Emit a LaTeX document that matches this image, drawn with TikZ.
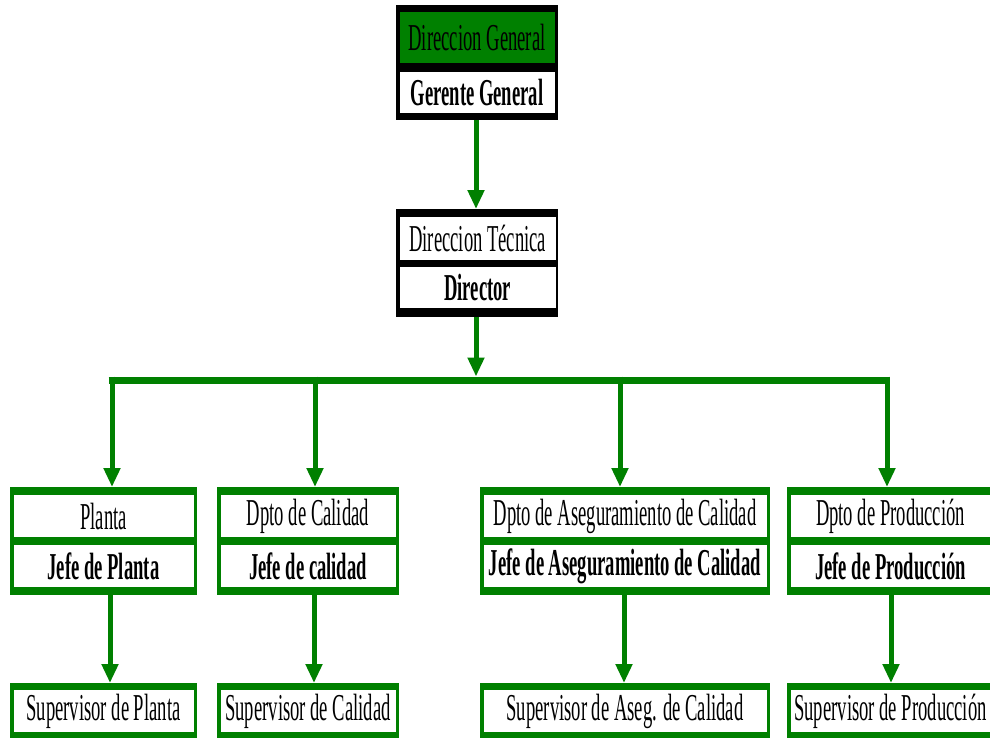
\documentclass[tikz,border=0pt]{standalone}
\usepackage{fontspec}
\setmainfont{Liberation Serif}[FakeStretch=0.49]
\usetikzlibrary{arrows.meta}
\definecolor{dgreen}{RGB}{0,128,0}
\begin{document}
\begin{tikzpicture}[x=1pt,y=-1pt,
  frame/.style={draw=none,inner sep=0pt,outer sep=0pt,anchor=north west},
  row/.style={draw=none,fill=white,inner sep=0pt,outer sep=0pt,anchor=north west,
    font=\fontsize{38}{42}\selectfont},
  boldrow/.style={row,font=\fontsize{38}{42}\selectfont\bfseries},
  conn/.style={draw=dgreen,line width=5pt,-{Triangle[width=16pt,length=19pt]}},
  bus/.style={draw=dgreen,line width=7pt}]
\useasboundingbox (0,0) rectangle (990,737);
\clip (0,0) rectangle (990,737);
\fill[white] (0,0) rectangle (990,737);

% Direccion General
\node[frame,fill=black,minimum width=162,minimum height=115] (gg) at (396,5) {};
\node[row,fill=dgreen,minimum width=155,minimum height=51] (gg1) at (399.5,12) {Direccion General};
\node[boldrow,minimum width=155,minimum height=41] (gg2) at (399.5,72) {Gerente General};

% Direccion Tecnica
\node[frame,fill=black,minimum width=162,minimum height=108] (dt) at (396,209) {};
\node[row,minimum width=156.5,minimum height=43] (dt1) at (399.5,217) {Direccion Técnica};
\node[boldrow,minimum width=156.5,minimum height=41] (dt2) at (399.5,267) {Director};

% Department boxes
\node[frame,fill=dgreen,minimum width=187,minimum height=108] (pl) at (10,487) {};
\node[row,minimum width=180,minimum height=42] (pl1) at (13.5,495) {Planta};
\node[boldrow,minimum width=180,minimum height=42] (pl2) at (13.5,545) {Jefe de Planta};

\node[frame,fill=dgreen,minimum width=182,minimum height=108] (ca) at (217,487) {};
\node[row,minimum width=175,minimum height=42] (ca1) at (220.5,495) {Dpto de Calidad};
\node[boldrow,minimum width=175,minimum height=42] (ca2) at (220.5,545) {Jefe de calidad};

\node[frame,fill=dgreen,minimum width=290,minimum height=108] (as) at (480,487) {};
\node[row,minimum width=283,minimum height=42] (as1) at (483.5,495) {Dpto de Aseguramiento de Calidad};
\node[boldrow,minimum width=283,minimum height=42] (as2) at (483.5,545) {Jefe de Aseguramiento de Calidad};

\node[frame,fill=dgreen,minimum width=207,minimum height=108] (pr) at (787,487) {};
\node[row,minimum width=200,minimum height=42] (pr1) at (790.5,495) {Dpto de Producción};
\node[boldrow,minimum width=200,minimum height=42] (pr2) at (790.5,545) {Jefe de Producción};

% Supervisor boxes
\node[frame,fill=dgreen,minimum width=187,minimum height=56] (spl) at (10,683) {};
\node[row,minimum width=180,minimum height=42] (spl1) at (13.5,690) {Supervisor de Planta};
\node[frame,fill=dgreen,minimum width=182,minimum height=56] (sca) at (217,683) {};
\node[row,minimum width=175,minimum height=42] (sca1) at (220.5,690) {Supervisor de Calidad};
\node[frame,fill=dgreen,minimum width=290,minimum height=56] (sas) at (480,683) {};
\node[row,minimum width=283,minimum height=42] (sas1) at (483.5,690) {Supervisor de Aseg. de Calidad};
\node[frame,fill=dgreen,minimum width=207,minimum height=56] (spr) at (787,683) {};
\node[row,minimum width=200,minimum height=42] (spr1) at (790.5,690) {Supervisor de Producción};

% Connectors
\coordinate (a1) at (476,120);
\draw[conn] (a1) -- (a1 |- dt.north);
\coordinate (a2) at (476,317);
\coordinate (bustop) at (476,376.5);
\draw[conn] (a2) -- (bustop);
\coordinate (busL) at (108.5,380);
\coordinate (busR) at (889.5,380);
\draw[bus] (busL) -- (busR);
\coordinate (d1) at (112,376.5);
\coordinate (d2) at (315,376.5);
\coordinate (d3) at (620,376.5);
\coordinate (d4) at (887,376.5);
\draw[conn] (d1) -- (d1 |- pl.north);
\draw[conn] (d2) -- (d2 |- ca.north);
\draw[conn] (d3) -- (d3 |- as.north);
\draw[conn] (d4) -- (d4 |- pr.north);
\coordinate (e1) at (110,595);
\coordinate (e2) at (314,595);
\coordinate (e3) at (624,595);
\coordinate (e4) at (891,595);
\draw[conn] (e1) -- (e1 |- spl.north);
\draw[conn] (e2) -- (e2 |- sca.north);
\draw[conn] (e3) -- (e3 |- sas.north);
\draw[conn] (e4) -- (e4 |- spr.north);
\end{tikzpicture}
\end{document}
